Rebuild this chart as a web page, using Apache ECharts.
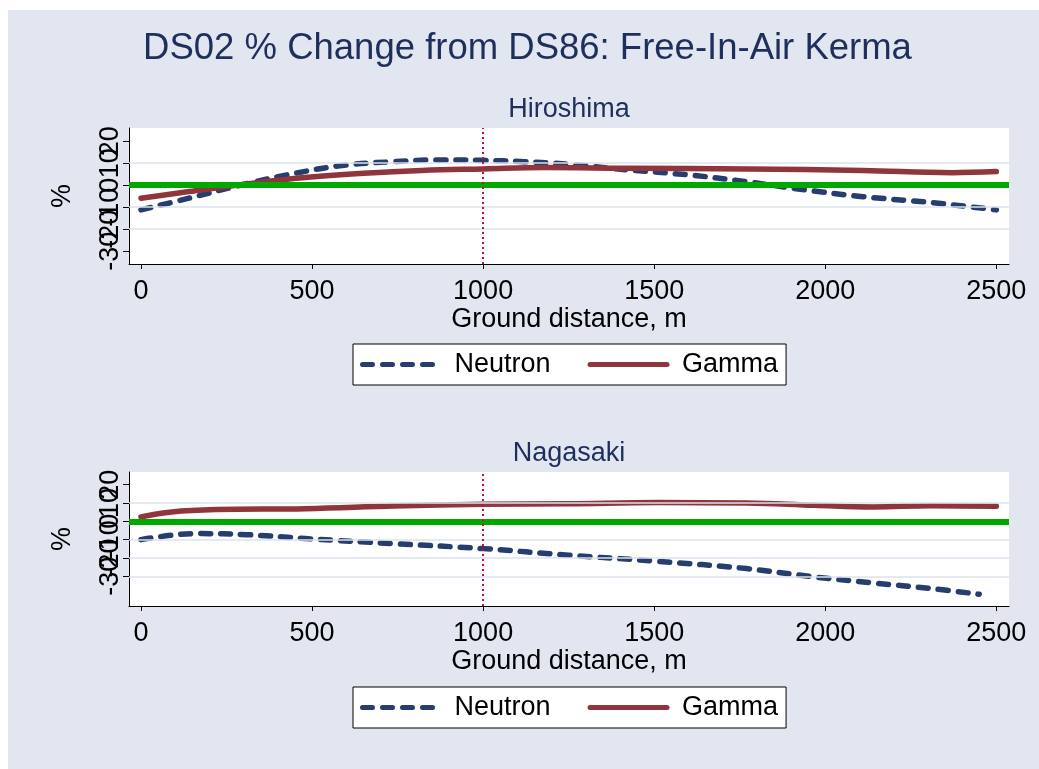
<!DOCTYPE html>
<html>
<head>
<meta charset="utf-8">
<script src="https://cdn.jsdelivr.net/npm/echarts@6/dist/echarts.min.js"></script>
<style>
  html, body { margin: 0; padding: 0; background: #ffffff; }
  #chart { position: absolute; left: 8px; top: 10px; width: 1031px; height: 759px; }
</style>
</head>
<body>
<div id="chart"></div>
<script>
// Ground distance (m) and % change of DS02 vs DS86 free-in-air kerma
const hiroNeutronDist = [0, 140, 290, 450, 600, 740, 860, 1000, 1120, 1250, 1420, 1600, 1770, 1940, 2110, 2310, 2500];
const hiroNeutronPct  = [-11.2, -5.9, 0.0, 5.4, 9.2, 10.7, 11.5, 11.3, 10.7, 9.5, 7.0, 4.7, 1.6, -2.1, -5.2, -7.9, -11.2];
const hiroGammaDist   = [0, 140, 310, 480, 650, 820, 1000, 1180, 1420, 1770, 2110, 2370, 2500];
const hiroGammaPct    = [-5.9, -2.9, 0.6, 3.5, 5.4, 6.7, 7.4, 8.0, 7.7, 7.4, 6.7, 5.7, 6.2];

const nagaNeutronDist = [0, 90, 170, 310, 480, 740, 1000, 1250, 1510, 1770, 1970, 2140, 2310, 2450];
const nagaNeutronPct  = [-10.0, -7.6, -6.7, -7.3, -9.4, -12.2, -14.9, -18.5, -21.8, -25.8, -30.4, -33.6, -36.7, -39.8];
const nagaGammaDist   = [0, 90, 220, 480, 740, 1000, 1250, 1510, 1770, 1970, 2140, 2310, 2500];
const nagaGammaPct    = [2.4, 5.1, 6.4, 6.9, 8.3, 9.3, 9.6, 10.2, 10.0, 8.7, 7.8, 8.5, 8.2];

// Axis ticks and reference lines
const xTicks = [0, 500, 1000, 1500, 2000, 2500];
const yTicks = [-30, -20, -10, 0, 10, 20];
const hiroGridLines = [10, -10, -20];
const nagaGridLines = [10, -10, -20, -30];
const refDistance = 1000;
const titleText = 'DS02 % Change from DS86: Free-In-Air Kerma';
const panelTitles = ['Hiroshima', 'Nagasaki'];

const FONT = 'Liberation Sans, Arial, Helvetica, sans-serif';
const NAVY = '#263d6e';
const MAROON = '#90353b';
const TITLE_COLOR = '#1f2f5c';

const pairs = (xs, ys) => xs.map((x, i) => [x, ys[i]]);
const plainNumber = v => String(v);
// The y labels are large and run into each other; they are spread over
// several stacked axes (every third tick) so that each one is drawn.
const Y_LAYERS = 3;
const yLabelGroups = Array.from({ length: Y_LAYERS }, (_, k) => yTicks.filter((v, i) => i % Y_LAYERS === k));

function xAxisFor(gridIndex) {
  return {
    type: 'value', gridIndex, min: -35, max: 2537,
    name: 'Ground distance, m', nameLocation: 'middle', nameGap: 41,
    nameTextStyle: { fontSize: 27, color: '#000', fontFamily: FONT },
    axisLine: { show: true, onZero: false, lineStyle: { color: '#000', width: 1 } },
    axisTick: { show: true, length: 5, customValues: xTicks, lineStyle: { color: '#000' } },
    axisLabel: { customValues: xTicks, formatter: plainNumber, hideOverlap: false, interval: 0,
                 showMinLabel: true, showMaxLabel: true,
                 fontSize: 27, color: '#000', fontFamily: FONT, margin: 14 },
    splitLine: { show: false }
  };
}

function yAxisFor(gridIndex, min, max, labels, primary) {
  return {
    type: 'value', gridIndex, min, max, position: 'left', offset: 0,
    name: primary ? '%' : '', nameLocation: 'middle', nameGap: 53, nameRotate: 90,
    nameTextStyle: { fontSize: 27, color: '#000', fontFamily: FONT },
    axisLine: { show: primary, onZero: false, lineStyle: { color: '#000', width: 1 } },
    axisTick: { show: primary, length: 6, customValues: yTicks, lineStyle: { color: '#000' } },
    axisLabel: { customValues: labels, formatter: plainNumber, hideOverlap: false, interval: 0,
                 showMinLabel: true, showMaxLabel: true,
                 rotate: 90, fontSize: 27, color: '#000', fontFamily: FONT, margin: 5 },
    splitLine: { show: false }
  };
}

function yAxesFor(gridIndex, min, max) {
  return yLabelGroups.map((labels, k) => yAxisFor(gridIndex, min, max, labels, k === 0));
}

const yIndex = idx => idx * Y_LAYERS;

function gridLineSeries(idx, values) {
  return {
    type: 'line', xAxisIndex: idx, yAxisIndex: yIndex(idx), data: [], z: 1, silent: true,
    markLine: {
      silent: true, symbol: 'none', label: { show: false }, animation: false,
      lineStyle: { color: '#dde2ec', width: 1.5, type: 'solid' },
      data: values.map(v => ({ yAxis: v }))
    }
  };
}

function refSeries(idx) {
  return {
    type: 'line', xAxisIndex: idx, yAxisIndex: yIndex(idx), data: [], z: 2, silent: true,
    markLine: {
      silent: true, symbol: 'none', label: { show: false }, animation: false,
      data: [
        { yAxis: 0, lineStyle: { color: '#00a800', width: 6, type: 'solid' } },
        { xAxis: refDistance, lineStyle: { color: '#c8103c', width: 2, type: [2, 3] } }
      ]
    }
  };
}

function curve(name, idx, data, color, dashed) {
  return {
    name, type: 'line', xAxisIndex: idx, yAxisIndex: yIndex(idx), data,
    showSymbol: false, symbol: 'none', smooth: 0.4, z: 3, clip: true,
    lineStyle: { color, width: 5.5, type: dashed ? [10, 10] : 'solid', cap: 'round', join: 'round' },
    itemStyle: { color }
  };
}

function legendFor(top) {
  return {
    left: 345, top, orient: 'horizontal', selectedMode: false,
    data: ['Neutron', 'Gamma'],
    itemWidth: 77, itemHeight: 14, itemGap: 37,
    padding: [7, 8, 7, 7],
    backgroundColor: '#ffffff', borderColor: '#000', borderWidth: 1, borderRadius: 0,
    textStyle: { fontSize: 27, color: '#000', fontFamily: FONT, padding: [0, 0, 0, 10] },
    itemStyle: { opacity: 0, borderWidth: 0 },
    lineStyle: { width: 5 }
  };
}

const chart = echarts.init(document.getElementById('chart'), null, { renderer: 'canvas' });
chart.setOption({
  animation: false,
  backgroundColor: '#e1e6f0',
  textStyle: { fontFamily: FONT },
  graphic: [
    { type: 'text', x: 519.5, y: 20, silent: true,
      style: { text: titleText, font: '36.5px ' + FONT, fill: TITLE_COLOR, align: 'center', textAlign: 'center', verticalAlign: 'top' } },
    { type: 'text', x: 561, y: 86.5, silent: true,
      style: { text: panelTitles[0], font: '27px ' + FONT, fill: TITLE_COLOR, align: 'center', textAlign: 'center', verticalAlign: 'top' } },
    { type: 'text', x: 561, y: 430.5, silent: true,
      style: { text: panelTitles[1], font: '27px ' + FONT, fill: TITLE_COLOR, align: 'center', textAlign: 'center', verticalAlign: 'top' } }
  ],
  grid: [
    { left: 121, top: 118, width: 880, height: 136, show: true, backgroundColor: '#ffffff', borderWidth: 0 },
    { left: 121, top: 462, width: 880, height: 134, show: true, backgroundColor: '#ffffff', borderWidth: 0 }
  ],
  xAxis: [xAxisFor(0), xAxisFor(1)],
  yAxis: [...yAxesFor(0, -35.8, 26.0), ...yAxesFor(1, -46.2, 26.9)],
  legend: [legendFor(334), legendFor(677)],
  series: [
    gridLineSeries(0, hiroGridLines),
    gridLineSeries(1, nagaGridLines),
    refSeries(0),
    refSeries(1),
    curve('Neutron', 0, pairs(hiroNeutronDist, hiroNeutronPct), NAVY, true),
    curve('Gamma', 0, pairs(hiroGammaDist, hiroGammaPct), MAROON, false),
    curve('Neutron', 1, pairs(nagaNeutronDist, nagaNeutronPct), NAVY, true),
    curve('Gamma', 1, pairs(nagaGammaDist, nagaGammaPct), MAROON, false)
  ]
});
</script>
</body>
</html>
